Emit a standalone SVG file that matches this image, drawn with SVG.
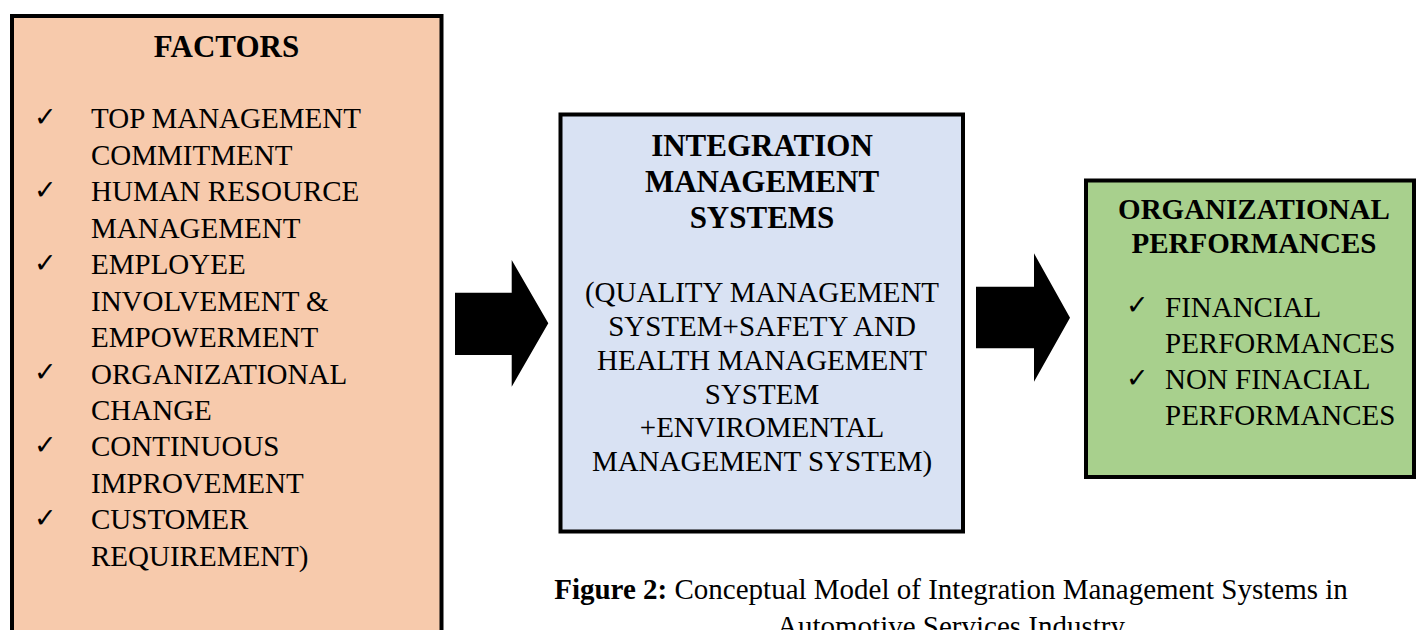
<svg xmlns="http://www.w3.org/2000/svg" width="1416" height="630" viewBox="0 0 1416 630">
  <style>
    .box { stroke: #000; stroke-width: 4; }
    .head { font-family: "Liberation Serif", "Times New Roman", serif; font-weight: bold; font-size: 31px; fill: #000; text-anchor: middle; }
    .body { font-family: "Liberation Serif", "Times New Roman", serif; font-size: 29px; fill: #000; }
    .mid { text-anchor: middle; }
    .tick { font-family: "DejaVu Sans", sans-serif; font-size: 27px; fill: #000; }
    .cap { font-family: "Liberation Serif", "Times New Roman", serif; font-size: 29px; fill: #000; text-anchor: middle; }
  </style>
  <rect width="1416" height="630" fill="#fff"/>

  <!-- Factors -->
  <g id="factors">
    <rect class="box" x="12" y="16" width="429.5" height="700" fill="#F7CAAC"/>
    <text class="head" x="226.5" y="57">FACTORS</text>
    <g class="tick">
      <text x="34" y="126">✓</text>
      <text x="34" y="199">✓</text>
      <text x="34" y="272">✓</text>
      <text x="34" y="381">✓</text>
      <text x="34" y="454">✓</text>
      <text x="34" y="527">✓</text>
    </g>
    <g class="body">
      <text x="91" y="128.3">TOP MANAGEMENT</text>
      <text x="91" y="164.8">COMMITMENT</text>
      <text x="91" y="201.2">HUMAN RESOURCE</text>
      <text x="91" y="237.7">MANAGEMENT</text>
      <text x="91" y="274.1">EMPLOYEE</text>
      <text x="91" y="310.6">INVOLVEMENT &amp;</text>
      <text x="91" y="347">EMPOWERMENT</text>
      <text x="91" y="383.5">ORGANIZATIONAL</text>
      <text x="91" y="419.9">CHANGE</text>
      <text x="91" y="456.4">CONTINUOUS</text>
      <text x="91" y="492.8">IMPROVEMENT</text>
      <text x="91" y="529.3">CUSTOMER</text>
      <text x="91" y="565.7">REQUIREMENT)</text>
    </g>
  </g>

  <!-- Integration management systems -->
  <g id="ims">
    <rect class="box" x="560.5" y="114.5" width="402.5" height="417" fill="#D9E2F3"/>
    <text class="head" x="762" y="156">INTEGRATION</text>
    <text class="head" x="762" y="192">MANAGEMENT</text>
    <text class="head" x="762" y="228">SYSTEMS</text>
    <g class="body mid">
      <text x="762" y="302">(QUALITY MANAGEMENT</text>
      <text x="762" y="336">SYSTEM+SAFETY AND</text>
      <text x="762" y="369.5">HEALTH MANAGEMENT</text>
      <text x="762" y="403.5">SYSTEM</text>
      <text x="762" y="437">+ENVIROMENTAL</text>
      <text x="762" y="471">MANAGEMENT SYSTEM)</text>
    </g>
  </g>

  <!-- Organizational performances -->
  <g id="performance">
    <rect class="box" x="1086" y="180.5" width="328" height="296.5" fill="#A8D08D"/>
    <text class="head" x="1254" y="219" style="font-size:29px">ORGANIZATIONAL</text>
    <text class="head" x="1254" y="252.7" style="font-size:29px">PERFORMANCES</text>
    <g class="tick">
      <text x="1126" y="314">✓</text>
      <text x="1126" y="387">✓</text>
    </g>
    <g class="body">
      <text x="1165" y="316.7">FINANCIAL</text>
      <text x="1165" y="352.7">PERFORMANCES</text>
      <text x="1165" y="389">NON FINACIAL</text>
      <text x="1165" y="425">PERFORMANCES</text>
    </g>
  </g>

  <!-- Block arrows between stages -->
  <g id="connectors" fill="#000">
    <polygon points="455,292.7 511.7,292.7 511.7,260 548.3,323.3 511.7,386.7 511.7,355 455,355"/>
    <polygon points="976,286.7 1034,286.7 1034,253.3 1070,317.7 1034,381.7 1034,348.3 976,348.3"/>
  </g>

  <!-- Caption -->
  <g id="caption">
    <text class="cap" x="951" y="599"><tspan font-weight="bold">Figure 2:</tspan> Conceptual Model of Integration Management Systems in</text>
    <text class="cap" x="951" y="636">Automotive Services Industry</text>
  </g>
</svg>
